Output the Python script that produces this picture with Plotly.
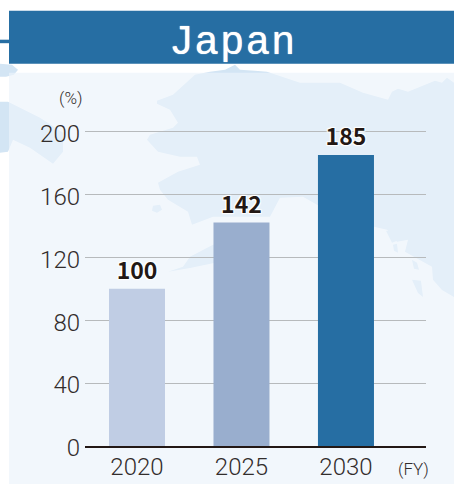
import plotly.graph_objects as go

categories = ["2020", "2025", "2030"]
values = [100, 142, 185]
bar_colors = ["#c0cde4", "#99aece", "#266ea3"]
y_ticks = [0, 40, 80, 120, 160, 200]

W, H = 454, 492
ML, MR, MT, MB = 85, 28, 129.24, 46
PW, PH = W - ML - MR, H - MT - MB


def px(x):
    return (x - ML) / PW


def py(y):
    return (H - MB - y) / PH


def path(points):
    return "M" + " L".join(f"{px(x):.4f},{py(y):.4f}" for x, y in points) + " Z"


MAP_DARK = "#d3e5f4"
land = [(157, 101), (173, 95), (195, 75), (210, 72), (225, 70), (235, 65), (240, 70), (255, 71), (267, 72),
        (285, 78), (300, 83), (340, 83), (363, 93), (388, 100), (392, 92), (398, 89), (408, 92), (435, 81),
        (442, 83), (447, 78), (454, 83), (454, 297), (442, 290), (433, 280), (432, 267), (405, 252), (408, 240),
        (397, 242), (387, 230), (374, 227), (330, 212), (317, 205), (303, 197), (280, 198), (270, 217), (213, 217),
        (192, 225), (188, 212), (168, 200), (160, 190), (158, 183), (178, 172), (200, 165), (197, 157), (180, 157),
        (158, 152), (147, 140), (150, 135), (173, 128), (178, 123), (170, 110), (157, 104)]
strip = [(168, 272), (183, 267), (190, 257), (213, 245), (222, 245), (220, 262), (190, 268)]
islands = [
    [(153, 206), (160, 205), (162, 210), (157, 213), (152, 211)],
    [(386, 231), (394, 232), (397, 241), (392, 243)],
    [(393, 245), (397, 244), (398, 253), (394, 251)],
    [(412, 260), (417, 263), (419, 270), (414, 269)],
    [(412, 280), (421, 281), (423, 297), (418, 293)],
]
west = [(0, 102), (8, 102), (40, 118), (63, 133), (63, 152), (53, 164), (30, 148), (13, 140), (8, 152), (0, 153)]
blob = [(0, 64), (12, 65), (18, 70), (14, 75), (6, 77), (0, 77)]

shapes = []
for poly in [land, strip, *islands, west, blob]:
    shapes.append(dict(type="path", xref="paper", yref="paper", path=path(poly),
                       fillcolor=MAP_DARK, line=dict(width=0), layer="below"))
# translucent panel over the map
shapes.append(dict(type="rect", xref="paper", yref="paper", x0=px(9), x1=px(454), y0=py(484), y1=py(73),
                   fillcolor="rgba(236,243,251,0.68)", line=dict(width=0), layer="below"))
# header band and connector
shapes.append(dict(type="rect", xref="paper", yref="paper", x0=px(9), x1=px(454), y0=py(64), y1=py(11),
                   fillcolor="#266ea3", line=dict(width=0), layer="below"))
shapes.append(dict(type="rect", xref="paper", yref="paper", x0=px(0), x1=px(9), y0=py(43.5), y1=py(40),
                   fillcolor="#266ea3", line=dict(width=0), layer="below"))

FONT = "Roboto"
TEXT = "#322d2c"

fig = go.Figure(go.Bar(
    x=categories, y=values, width=0.536,
    marker=dict(color=bar_colors, line=dict(width=0)),
    text=values, textposition="outside", cliponaxis=False,
    textfont=dict(family="Noto Sans CJK JP", size=23, weight=700, color="#231815",
                  shadow="1px 1px 1px #fff, -1px 1px 1px #fff, 1px -1px 1px #fff, -1px -1px 1px #fff"),
    hoverinfo="skip",
))

fig.update_layout(
    width=W, height=H, margin=dict(l=ML, r=MR, t=MT, b=MB, autoexpand=False),
    paper_bgcolor="#ffffff", plot_bgcolor="rgba(0,0,0,0)", showlegend=False,
    shapes=shapes, font=dict(family=FONT, color=TEXT),
    annotations=[
        dict(text="J\u200aa\u200ap\u200aa\u200an", xref="paper", yref="paper", x=px(233), y=py(40), showarrow=False,
             font=dict(family="Liberation Sans", size=40, color="#ffffff", shadow="0 0 1px #fff"),
             xanchor="center", yanchor="middle"),
        dict(text="(%)", xref="paper", yref="paper", x=px(71), y=py(98), showarrow=False,
             font=dict(family=FONT, size=17, color=TEXT, weight=300), xanchor="center", yanchor="middle"),
        dict(text="(FY)", xref="paper", yref="paper", x=px(413), y=py(469), showarrow=False,
             font=dict(family=FONT, size=17, color=TEXT, weight=300), xanchor="center", yanchor="middle"),
    ],
)
fig.update_xaxes(type="category", range=[-0.4976, 2.766], showgrid=False, ticks="", showline=True,
                 linecolor="#231815", linewidth=2, tickfont=dict(family=FONT, size=24, color=TEXT, weight=300),
                 ticklabelstandoff=-2, zeroline=False, automargin=False)
fig.update_yaxes(range=[0, 201.5], tickvals=y_ticks, ticktext=[str(v) for v in y_ticks], showgrid=True,
                 gridcolor="#b7babc", gridwidth=1.2, zeroline=False, showline=False, ticks="",
                 tickfont=dict(family=FONT, size=24, color=TEXT, weight=300), ticklabelstandoff=4,
                 ticklabelshift=2, automargin=False)

fig.write_html("out.html", post_script="document.body.style.margin='0';", config=dict(displayModeBar=False))
